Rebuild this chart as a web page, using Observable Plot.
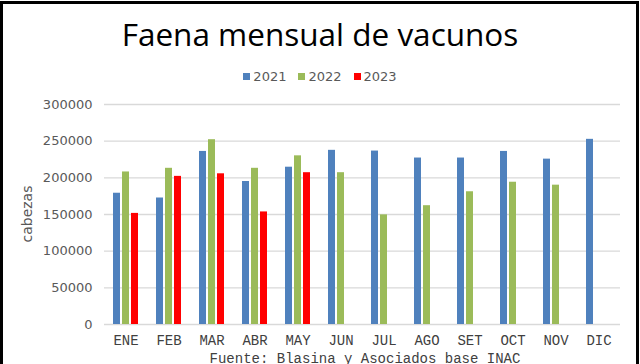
<!DOCTYPE html>
<html>
<head>
<meta charset="utf-8">
<script src="https://cdn.jsdelivr.net/npm/d3@7"></script>
<script src="https://cdn.jsdelivr.net/npm/@observablehq/plot@0.6"></script>
<style>
  html, body { margin: 0; padding: 0; background: #fff; }
  #wrap { position: relative; width: 640px; height: 364px; overflow: hidden; background: #fff; }
  #frame { position: absolute; left: 0; top: 1px; width: 633px; height: 420px; border: 3px solid #000; box-sizing: content-box; }
  #title { position: absolute; left: 0; width: 640px; top: 14px; text-align: center; font-family: "Open Sans", sans-serif; font-size: 31.5px; color: #000; line-height: 40px; }
  #legend { position: absolute; left: 0; width: 640px; top: 69px; text-align: center; font-family: "DejaVu Sans", sans-serif; font-size: 13px; color: #595959; line-height: 16px; }
  #legend span.item { display: inline-block; margin: 0 6px; }
  #legend span.sw { display: inline-block; width: 7px; height: 7px; margin-right: 3px; vertical-align: 1px; }
  #chart { position: absolute; left: 0; top: 90px; }
  #ylabel { position: absolute; left: 27px; top: 214px; transform: translate(-50%, -50%) rotate(-90deg); font-family: "DejaVu Sans", sans-serif; font-size: 14px; color: #595959; white-space: nowrap; line-height: 14px; }
  #caption { position: absolute; left: 0; width: 640px; top: 351px; text-align: center; font-family: "Liberation Mono", monospace; font-size: 14px; color: #404040; line-height: 16px; padding-left: 90px; box-sizing: border-box; }
</style>
</head>
<body>
<div id="wrap">
  <div id="frame"></div>
  <div id="title">Faena mensual de vacunos</div>
  <div id="legend"></div>
  <div id="chart"></div>
  <div id="ylabel">cabezas</div>
  <div id="caption">Fuente: Blasina y Asociados base INAC</div>
</div>
<script>
const months = ["ENE","FEB","MAR","ABR","MAY","JUN","JUL","AGO","SET","OCT","NOV","DIC"];
const years = ["2021","2022","2023"];
const colors = ["#4f81bd","#9bbb59","#ff0000"];
const v2021 = [179000,172500,236000,195000,214500,237500,236500,227000,227000,236000,225500,252500];
const v2022 = [208000,213000,252000,213000,230000,207000,149500,162000,181000,194000,190000];
const v2023 = [151500,202000,205500,153500,207000];
const yTicks = [0,50000,100000,150000,200000,250000,300000];

const series = [v2021, v2022, v2023];
const rows = [];
series.forEach((vals, i) => vals.forEach((v, j) => rows.push({month: months[j], year: years[i], value: v})));

// legend
const leg = document.getElementById("legend");
years.forEach((y, i) => {
  const it = document.createElement("span");
  it.className = "item";
  const sw = document.createElement("span");
  sw.className = "sw";
  sw.style.background = colors[i];
  it.appendChild(sw);
  it.appendChild(document.createTextNode(y));
  leg.appendChild(it);
});

const chart = Plot.plot({
  width: 640,
  height: 274,
  marginTop: 14,
  marginBottom: 40,
  marginLeft: 101,
  marginRight: 17,
  style: {background: "transparent", overflow: "visible"},
  fx: {domain: months, padding: 0},
  x: {domain: years, paddingInner: 0.22, paddingOuter: 0.85, axis: null},
  y: {domain: [0, 300000], axis: null},
  color: {domain: years, range: colors},
  marks: [
    Plot.gridY(yTicks, {stroke: "#d9d9d9", strokeOpacity: 1, strokeWidth: 1.3}),
    Plot.barY(rows, {fx: "month", x: "year", y: "value", fill: "year"}),
    Plot.axisY(yTicks, {
      tickSize: 0, tickPadding: 12, tickFormat: d => String(d),
      fontSize: 13, fontFamily: "DejaVu Sans", fill: "#595959",
      label: null
    }),
    Plot.axisFx({
      anchor: "bottom", tickSize: 0, tickPadding: 11, label: null,
      fontSize: 14, fontFamily: "Liberation Mono", fill: "#404040"
    })
  ]
});
document.getElementById("chart").appendChild(chart);
</script>
</body>
</html>
